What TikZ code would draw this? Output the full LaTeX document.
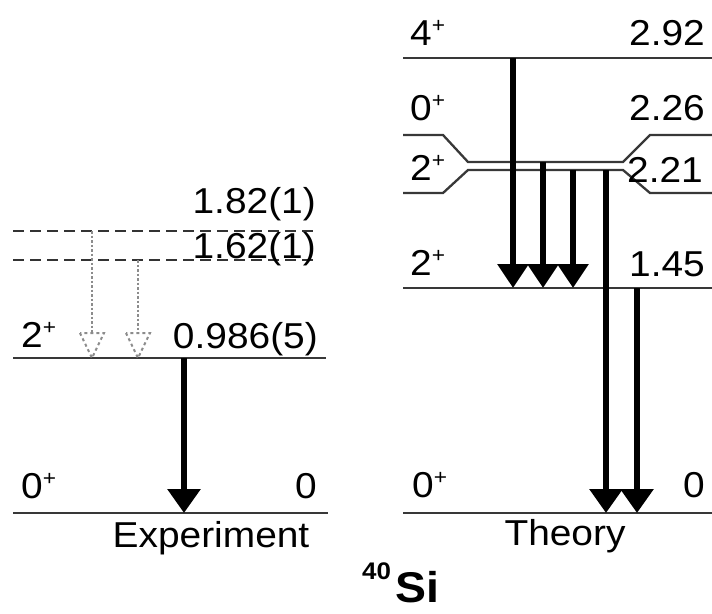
\documentclass[tikz,border=0pt]{standalone}
\usepackage{fontspec}
\setmainfont[FakeStretch=1.08]{Liberation Sans}
\usetikzlibrary{arrows.meta}
\newcommand{\plussup}{\raisebox{13pt}{\fontsize{21}{21}\selectfont +}}
\begin{document}
\begin{tikzpicture}[x=1pt,y=-1pt,
  lvl/.style={line width=2.8pt, draw=black!78},
  dlvl/.style={line width=2.6pt, draw=black!80, dash pattern=on 11pt off 6pt},
  gam/.style={line width=6pt, -{Triangle[width=32pt,length=24pt]}},
  tgam/.style={line width=6pt, -{Triangle[width=30pt,length=24pt]}},
  dgam/.style={line width=2.5pt, draw=black!45, dotted},
  dhead/.style={line width=2pt, draw=black!45, dash pattern=on 3pt off 3pt},
  lab/.style={inner sep=0pt, font=\fontsize{36}{42}\selectfont},
]
\useasboundingbox (0,0) rectangle (712,613);

% ---------- Experiment levels ----------
\coordinate (eL182) at (13,231);  \coordinate (eR182) at (316,231);
\coordinate (eL162) at (13,260);  \coordinate (eR162) at (316,260);
\coordinate (eL2)   at (13,358);  \coordinate (eR2)   at (326,358);
\coordinate (eL0)   at (13,513);  \coordinate (eR0)   at (328,513);
\draw[dlvl] (eL182) -- (eR182);
\draw[dlvl] (eL162) -- (eR162);
\draw[lvl] (eL2) -- (eR2);
\draw[lvl] (eL0) -- (eR0);

\node[lab, anchor=base east] (t182) at (316,213) {1.82(1)};
\node[lab, anchor=base east] (t162) at (316,258) {1.62(1)};
\node[lab, anchor=base west] (j2e) at (21,347) {2\plussup};
\node[lab, anchor=base east] (t0986) at (318,348) {0.986(5)};
\node[lab, anchor=base west] (j0e) at (21,498) {0\plussup};
\node[lab, anchor=base east] (t0e) at (317,498) {0};
\node[lab, anchor=base] (expt) at (211,547) {Experiment};

% experimental transitions
\coordinate (d1a) at (92,231);  \coordinate (d1h) at (92,333);  \coordinate (d1b) at (92,358);
\coordinate (d2a) at (138,260); \coordinate (d2h) at (138,333); \coordinate (d2b) at (138,358);
\draw[dgam] (d1a) -- (d1h);
\draw[dhead] ([xshift=-12pt]d1h) -- (d1b) -- ([xshift=12pt]d1h) -- cycle;
\draw[dgam] (d2a) -- (d2h);
\draw[dhead] ([xshift=-12pt]d2h) -- (d2b) -- ([xshift=12pt]d2h) -- cycle;

\coordinate (eg1a) at (184,358); \coordinate (eg1b) at (184,513);
\draw[gam] (eg1a) -- (eg1b);

% ---------- Theory levels ----------
\coordinate (tL4) at (403,58);   \coordinate (tR4) at (712,58);
\coordinate (tL145) at (403,288); \coordinate (tR145) at (712,288);
\coordinate (tL0) at (403,513);  \coordinate (tR0) at (712,513);
\draw[lvl] (tL4) -- (tR4);
\draw[lvl] (tL145) -- (tR145);
\draw[lvl] (tL0) -- (tR0);
\draw[lvl, line width=2.3pt] (403,135) -- (443,135) -- (468,162) -- (623,162) -- (650,135) -- (712,135);
\draw[lvl, line width=2.3pt] (403,193) -- (443,193) -- (468,170) -- (623,170) -- (650,193) -- (712,193);

\node[lab, anchor=base west] (j4t) at (410,45) {4\plussup};
\node[lab, anchor=base east] (t292) at (705,45) {2.92};
\node[lab, anchor=base west] (j0t) at (410,120) {0\plussup};
\node[lab, anchor=base east] (t226) at (705,120) {2.26};
\node[lab, anchor=base west] (j2t) at (410,180) {2\plussup};
\node[lab, anchor=base east] (t221) at (703,182) {2.21};
\node[lab, anchor=base west] (j2t2) at (410,275) {2\plussup};
\node[lab, anchor=base east] (t145) at (705,276) {1.45};
\node[lab, anchor=base west] (j0t0) at (412,497) {0\plussup};
\node[lab, anchor=base east] (t0t) at (705,497) {0};
\node[lab, anchor=base] (theo) at (565,545) {Theory};

% theory transitions
\coordinate (g1a) at (513,58);  \coordinate (g1b) at (513,288);
\coordinate (g2a) at (543,162); \coordinate (g2b) at (543,288);
\coordinate (g3a) at (573,170); \coordinate (g3b) at (573,288);
\coordinate (g4a) at (606,170); \coordinate (g4b) at (606,513);
\coordinate (g5a) at (637,288); \coordinate (g5b) at (637,513);
\draw[tgam] (g1a) -- (g1b);
\draw[tgam] (g2a) -- (g2b);
\draw[tgam] (g3a) -- (g3b);
\draw[gam] (g4a) -- (g4b);
\draw[gam] (g5a) -- (g5b);

% nucleus label
\node[inner sep=0pt, anchor=base west, font=\bfseries\fontsize{43}{50}\selectfont] (nuc) at (362,602)
  {\raisebox{23pt}{\fontsize{24}{26}\selectfont 40}\kern4pt Si};
\end{tikzpicture}
\end{document}
